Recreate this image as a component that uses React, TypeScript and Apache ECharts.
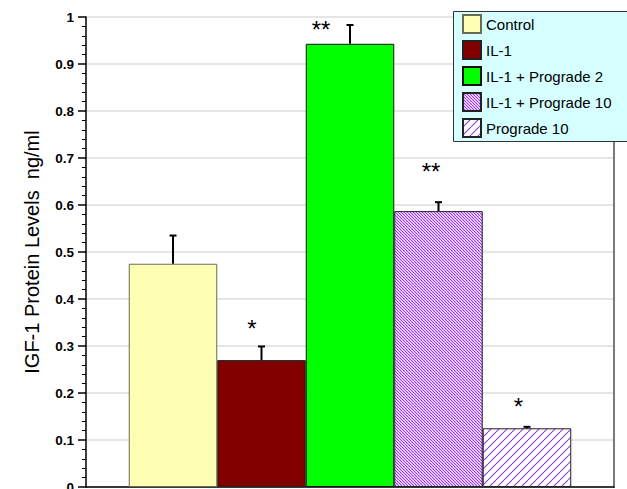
import React, { useEffect, useRef } from "react";
import * as echarts from "echarts";

// ---- data ----
const seriesNames = ["Control", "IL-1", "IL-1 + Prograde 2", "IL-1 + Prograde 10", "Prograde 10"];
const means = [0.475, 0.27, 0.943, 0.587, 0.125];
const errors = [0.06, 0.029, 0.04, 0.019, 0.003];
const starMarks = ["", "*", "**", "**", "*"];
const starLevels = [null, 0.338, 0.974, 0.672, 0.172];
const yTicks = { min: 0, max: 1, interval: 0.1 };

// ---- styles ----
const FONT = "'Liberation Sans', Arial, Helvetica, sans-serif";
const BAR_W = 88.5;
const STAR_DX = [0, -9.5, -29, -7.5, -8.5];

function hatch(p: number, color: string, lw: number, dir: string) {
  const c = document.createElement("canvas");
  c.width = p;
  c.height = p;
  const ctx = c.getContext("2d")!;
  ctx.fillStyle = "#ffffff";
  ctx.fillRect(0, 0, p, p);
  ctx.strokeStyle = color;
  ctx.lineWidth = lw;
  ctx.beginPath();
  for (let k = -1; k <= 1; k++) {
    if (dir === "\\") {
      ctx.moveTo(k * p, 0);
      ctx.lineTo(k * p + p, p);
    } else {
      ctx.moveTo(k * p, p);
      ctx.lineTo(k * p + p, 0);
    }
  }
  ctx.stroke();
  return c;
}

export default function App() {
  const ref = useRef<HTMLDivElement>(null);
  useEffect(() => {
    if (!ref.current) return;
    const chart = echarts.init(ref.current, null, { renderer: "svg" });
    const fills: any[] = [
      "#ffffb3",
      "#800000",
      "#00ff00",
      { image: hatch(3, "#9933ff", 1.2, "\\"), repeat: "repeat" },
      { image: hatch(8, "#8a40e0", 1.1, "/"), repeat: "repeat" },
    ];
    const borders = ["#6b6b55", "#222", "#111", "#222", "#222"];

    const barSeries = seriesNames.map((name, i) => ({
      name,
      type: "bar",
      data: [means[i]],
      barWidth: BAR_W,
      barGap: "0%",
      itemStyle: { color: fills[i], borderColor: borders[i], borderWidth: 1 },
      z: 2,
    }));

    const errSeries = {
      type: "custom",
      clip: false,
      z: 5,
      silent: true,
      data: means.map((m, i) => [0, m, errors[i]]),
      renderItem: (params: any, api: any) => {
        const i = params.dataIndex;
        const cx = api.coord([0, 0])[0] + (i - 2) * BAR_W;
        const yb = api.coord([0, api.value(1)])[1];
        const yt = api.coord([0, api.value(1) + api.value(2)])[1];
        const st = { stroke: "#000", lineWidth: 2 };
        return {
          type: "group",
          children: [
            { type: "line", shape: { x1: cx, y1: yb, x2: cx, y2: yt }, style: st },
            { type: "line", shape: { x1: cx - 3.5, y1: yt, x2: cx + 3.5, y2: yt }, style: st },
          ],
        };
      },
    };

    const starSeries = {
      type: "custom",
      clip: false,
      z: 6,
      silent: true,
      data: starLevels.map((l) => [0, l == null ? "-" : l]),
      renderItem: (params: any, api: any) => {
        const i = params.dataIndex;
        if (starLevels[i] == null) return null;
        const cx = api.coord([0, 0])[0] + (i - 2) * BAR_W + STAR_DX[i];
        const y = api.coord([0, api.value(1)])[1];
        return {
          type: "text",
          x: cx,
          y,
          style: {
            text: starMarks[i],
            fill: "#000",
            font: `24px ${FONT}`,
            align: "center",
            verticalAlign: "middle",
          },
        };
      },
    };

    chart.setOption({
      animation: false,
      textStyle: { fontFamily: FONT },
      grid: { left: 86, right: 13, top: 17, bottom: 2, containLabel: false, outerBoundsMode: "none" },
      graphic: [
        {
          type: "rect",
          z: 3,
          silent: true,
          shape: { x: 453.5, y: 11.5, width: 200, height: 130 },
          style: { fill: "#d6ffff", stroke: "#333", lineWidth: 1 },
        },
      ],
      legend: {
        data: seriesNames,
        orient: "vertical",
        left: 453,
        top: 11,
        icon: "rect",
        itemWidth: 18,
        itemHeight: 18,
        itemGap: 6,
        padding: [3, 10, 5, 9],
        backgroundColor: "transparent",
        borderWidth: 0,
        textStyle: { fontSize: 15, color: "#000", fontFamily: FONT },
        selectedMode: false,
        z: 5,
      },
      xAxis: {
        type: "category",
        data: [""],
        axisLine: { show: true, lineStyle: { color: "#000", width: 1.5 } },
        axisTick: { show: false },
        axisLabel: { show: false },
        splitLine: { show: false },
      },
      yAxis: [
        {
          type: "value",
          min: yTicks.min,
          max: yTicks.max,
          interval: yTicks.interval,
          name: "IGF-1 Protein Levels  ng/ml",
          nameLocation: "middle",
          nameGap: 44,
          nameTextStyle: { fontSize: 20, color: "#000", fontFamily: FONT },
          axisLine: { show: true, lineStyle: { color: "#000", width: 1.5 } },
          axisTick: { show: true, length: 8, inside: false, lineStyle: { color: "#000", width: 1.5 } },
          minorTick: { show: true, splitNumber: 5, length: 4, lineStyle: { color: "#000", width: 1 } },
          axisLabel: { margin: 12, fontSize: 13.5, fontWeight: "bold", color: "#000", fontFamily: FONT },
          splitLine: { show: true, lineStyle: { color: "#dcdcdc", width: 1.5 } },
        },
        {
          type: "value",
          position: "right",
          min: yTicks.min,
          max: yTicks.max,
          interval: yTicks.interval,
          axisLine: { show: true, lineStyle: { color: "#7a7a7a", width: 2 } },
          axisTick: { show: false },
          axisLabel: { show: false },
          splitLine: { show: false },
        },
      ],
      series: [...barSeries, errSeries, starSeries],
    });
    return () => chart.dispose();
  }, []);
  return (
    <div
      ref={ref}
      style={{ position: "fixed", left: 0, top: 0, width: 627, height: 489, background: "#fff" }}
    />
  );
}
